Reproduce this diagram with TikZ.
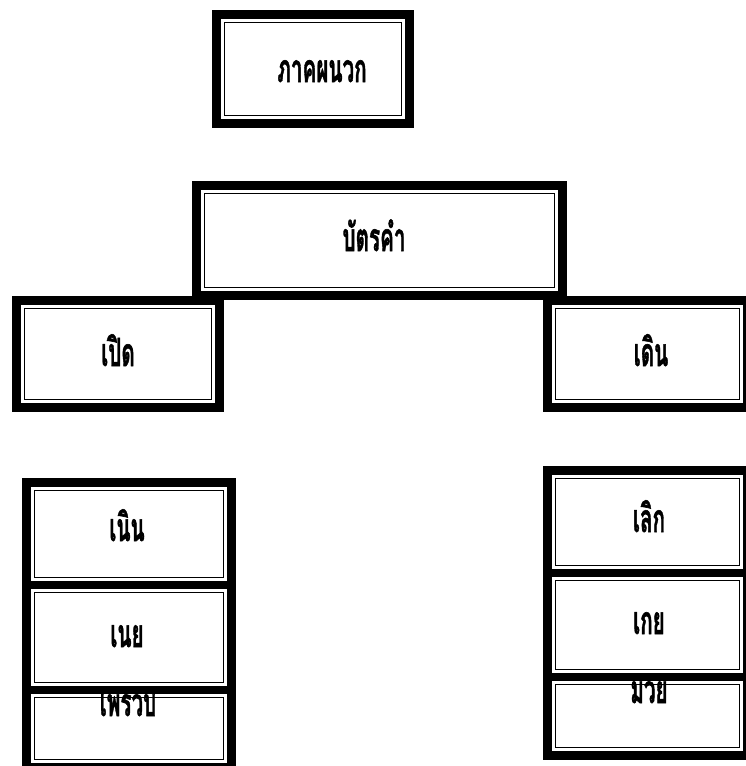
\documentclass[tikz,border=0pt]{standalone}
\usepackage{fontspec}
\newfontfamily\thaifont[Script=Thai,FakeBold=1.6]{Loma}
\newcommand\talltext[1]{\scalebox{0.86}[1.62]{#1}}
\tikzset{
  blackbox/.style={fill=black},
  whitecell/.style={fill=white},
  thinframe/.style={draw=black, line width=1.8pt},
  lbl/.style={font=\thaifont\bfseries\fontsize{24}{26}\selectfont, inner sep=0pt, anchor=base}
}
\begin{document}
\begin{tikzpicture}[x=1pt,y=-1pt]
\useasboundingbox (0,0) rectangle (746,766);
\clip (0,0) rectangle (746,766);
% outer black frames
\foreach \a/\b/\c/\d in {212/10/414/128, 192/181/567/300, 12/296/224/412, 543/296/752/412, 22/478/236/772, 543/466/752/760}
  { \path[blackbox] (\a,\b) rectangle (\c,\d); }
% white cells with thin inner frames
\foreach \a/\b/\c/\d in {221/19/405/119, 201/190/558/291, 21/305/215/403, 552/305/743/403,
   31/487/227/581, 31/589/227/686, 31/694/227/763,
   552/475/743/569, 552/577/743/673, 552/681/743/751}
  { \path[whitecell] (\a,\b) rectangle (\c,\d);
    \draw[thinframe] (\a+3.5,\b+3.5) rectangle (\c-3.5,\d-3.5); }
% labels
\node[lbl] (t1) at (322,82) {\talltext{ภาคผนวก}};
\node[lbl] (t2) at (374,251) {\talltext{บัตรคำ}};
\node[lbl] (t3) at (118,366) {\talltext{เปิด}};
\node[lbl] (t4) at (651,366) {\talltext{เดิน}};
\node[lbl] (t5) at (127,541) {\talltext{เนิน}};
\node[lbl] (t6) at (127,647) {\talltext{เนย}};
\node[lbl] (t7) at (128,716) {\talltext{เพรวบ}};
\node[lbl] (t8) at (649,532) {\talltext{เลิก}};
\node[lbl] (t9) at (649,634) {\talltext{เกย}};
\node[lbl] (t10) at (649,703) {\talltext{มวย}};
\end{tikzpicture}
\end{document}
